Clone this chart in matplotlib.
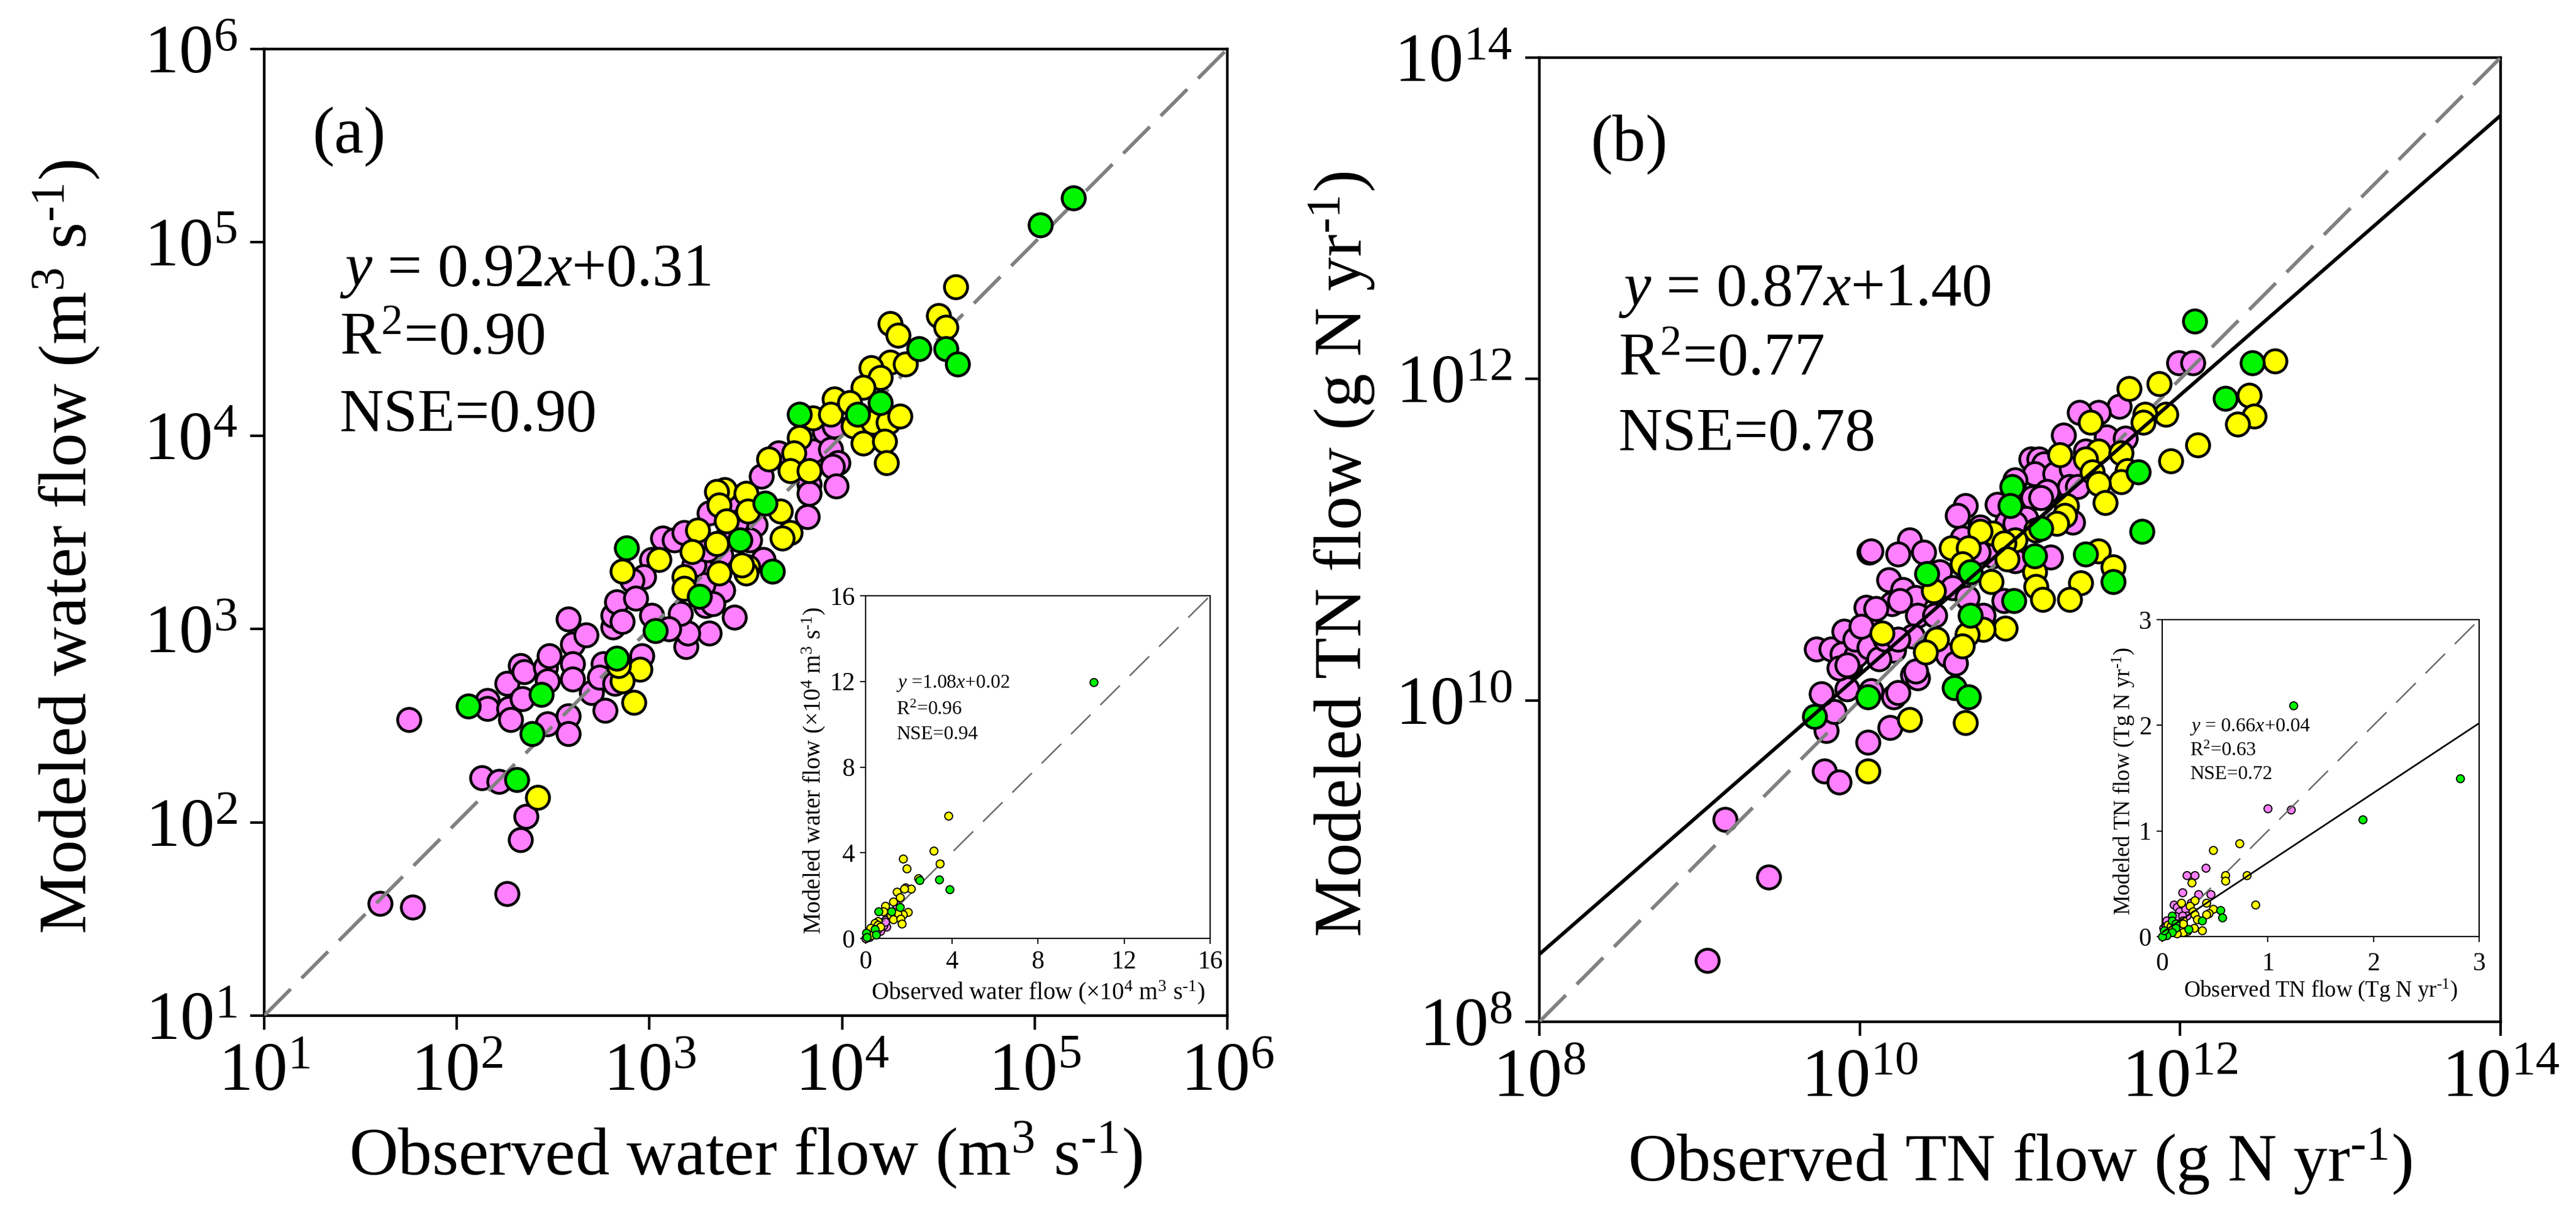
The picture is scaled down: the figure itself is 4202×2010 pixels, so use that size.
import numpy as np
import matplotlib
matplotlib.use('Agg')
import matplotlib.pyplot as plt

plt.rcParams['font.family'] = ['Liberation Serif', 'DejaVu Serif']
plt.rcParams['mathtext.fontset'] = 'custom'
plt.rcParams['mathtext.rm'] = 'Liberation Serif'
plt.rcParams['mathtext.it'] = 'Liberation Serif:italic'
plt.rcParams['mathtext.bf'] = 'Liberation Serif:bold'

PINK = '#FF80FF'
YELLOW = '#FFFF00'
GREEN = '#00F500'
GRAY = '#808080'

# panel a, log10 of m3/s
a_pink_x = [1.75, 1.60, 1.77, 2.26, 2.33, 2.36, 2.13, 2.22, 2.16, 2.16, 2.27, 2.28, 2.26, 2.34, 2.33, 2.35, 2.46, 2.48,
            2.47, 2.60, 2.58, 2.67, 2.60, 2.60, 2.47, 2.58, 2.58, 2.70, 2.77, 2.76, 2.74, 2.82, 2.96, 2.81, 2.81, 3.19,
            3.85, 3.91, 3.96, 3.94, 3.98, 3.95, 3.83, 3.83, 3.97, 3.82, 3.58, 3.67, 3.44, 3.31, 3.20, 3.16, 3.29, 3.38,
            3.59, 3.37, 3.31, 3.55, 3.07, 3.13, 3.18, 3.01, 2.97, 2.91, 2.83, 2.93, 3.01, 3.10, 2.86, 3.43, 3.45, 3.52,
            3.27, 3.28, 3.33, 3.23, 3.40, 3.30]
a_pink_y = [2.53, 1.58, 1.56, 1.63, 1.91, 2.03, 2.23, 2.21, 2.63, 2.59, 2.59, 2.53, 2.72, 2.64, 2.81, 2.78, 2.80, 2.86,
            2.73, 2.92, 3.05, 2.97, 2.82, 2.74, 2.51, 2.55, 2.46, 2.67, 2.58, 2.82, 2.75, 2.72, 2.86, 3.01, 3.07, 2.91,
            3.92, 4.02, 4.05, 3.93, 3.86, 3.84, 3.75, 3.70, 3.74, 3.58, 3.79, 3.91, 3.06, 2.98, 2.98, 3.08, 3.12, 3.20,
            3.36, 3.38, 3.60, 3.54, 3.47, 3.46, 3.50, 3.36, 3.27, 3.25, 3.14, 3.16, 3.07, 3.00, 3.04, 3.67, 3.55, 3.46,
            3.31, 3.23, 3.13, 3.33, 3.47, 3.41]
a_yellow_x = [2.42, 2.95, 2.86, 2.84, 2.92, 4.59, 4.50, 4.54, 4.25, 4.29, 4.25, 4.33, 4.15, 4.20, 4.11, 3.96, 3.85, 3.94,
              4.04, 4.06, 4.16, 4.24, 4.30, 4.11, 4.22, 4.23, 3.78, 3.75, 3.62, 3.73, 3.83, 3.39, 3.35, 3.50, 3.36, 3.51,
              3.68, 3.40, 3.73, 3.69, 3.25, 3.35, 3.22, 3.05, 2.86, 3.18, 3.36, 3.51, 3.50, 3.48, 3.18]
a_yellow_y = [2.13, 2.79, 2.73, 2.81, 2.62, 4.77, 4.62, 4.56, 4.58, 4.52, 4.38, 4.37, 4.35, 4.30, 4.25, 4.19, 4.09, 4.11,
              4.17, 4.05, 4.07, 4.07, 4.10, 3.96, 3.97, 3.86, 3.99, 3.91, 3.88, 3.82, 3.82, 3.72, 3.71, 3.70, 3.64, 3.61,
              3.61, 3.56, 3.50, 3.47, 3.51, 3.44, 3.40, 3.36, 3.30, 3.27, 3.29, 3.32, 3.29, 3.33, 3.21]
a_green_x = [2.06, 2.44, 2.39, 2.31, 2.83, 5.20, 5.03, 4.40, 4.54, 4.60, 4.20, 4.08, 3.78, 3.60, 3.47, 3.64, 3.26, 2.88, 3.03]
a_green_y = [2.60, 2.66, 2.46, 2.22, 2.85, 5.23, 5.09, 4.45, 4.45, 4.37, 4.17, 4.11, 4.11, 3.65, 3.46, 3.30, 3.17, 3.42, 2.99]

# panel b, log10 of g N/yr
b_pink_x = [9.05, 9.43, 9.16, 9.78, 9.87, 10.05, 10.19, 9.79, 9.84, 9.76, 9.92, 10.07, 10.21, 10.24, 10.33, 10.36, 9.73,
            9.82, 9.90, 9.89, 9.87, 9.94, 9.98, 9.97, 10.04, 10.06, 10.06, 10.04, 10.01, 9.92,
            11.99, 12.08, 11.62, 11.49, 11.37, 11.27, 11.54, 11.66, 11.41, 11.07, 11.12, 11.15, 11.09, 11.22, 11.32,
            10.97, 11.17, 11.31, 11.36, 11.08, 11.13, 10.86, 10.66, 10.61, 11.33, 10.92, 11.04, 10.97, 10.75, 10.31,
            10.24, 10.40, 10.07, 11.19, 10.18, 10.50, 10.27, 10.35, 10.20, 10.25, 10.10, 10.58, 10.67, 10.90, 10.77,
            10.36, 10.47, 10.33, 10.21, 10.12, 10.55, 10.60, 10.35, 10.83, 10.97, 10.64, 10.16, 10.24, 10.74]
b_pink_y = [8.38, 8.90, 9.26, 9.56, 9.49, 9.74, 9.83, 9.81, 9.93, 10.04, 10.07, 10.06, 10.02, 10.05, 10.16, 10.14, 10.32,
            10.32, 10.43, 10.29, 10.20, 10.22, 10.28, 10.38, 10.47, 10.33, 10.92, 10.58, 10.46, 10.22,
            12.10, 12.10, 11.83, 11.79, 11.79, 11.65, 11.64, 11.63, 11.55, 11.50, 11.50, 11.47, 11.41, 11.41, 11.44,
            11.37, 11.30, 11.33, 11.33, 11.26, 11.26, 11.22, 11.21, 11.15, 11.11, 11.11, 11.13, 11.10, 11.08, 11.00,
            10.91, 10.92, 10.93, 10.89, 10.75, 10.80, 10.69, 10.64, 10.60, 10.62, 10.57, 10.70, 10.64, 10.62, 10.53,
            10.53, 10.53, 10.40, 10.31, 10.26, 10.28, 10.23, 10.18, 10.90, 10.87, 11.01, 10.38, 10.38, 10.92]
b_yellow_x = [10.05, 10.31, 10.66, 12.59, 12.43, 12.46, 12.36, 12.11, 11.94, 11.68, 11.87, 11.91, 11.78, 11.77, 11.44,
              11.25, 11.49, 11.63, 11.41, 11.45, 11.67, 11.63, 11.49, 11.53, 11.29, 11.28, 11.23, 11.10, 10.83, 10.75,
              10.57, 10.68, 10.97, 10.90, 10.92, 10.64, 10.82, 10.46, 11.49, 11.58, 11.09, 11.10, 11.14, 11.38, 11.31,
              10.91, 10.77, 10.67, 10.64, 10.48, 10.41, 10.14]
b_yellow_y = [9.56, 9.88, 9.86, 12.11, 11.90, 11.77, 11.72, 11.59, 11.49, 11.94, 11.97, 11.78, 11.78, 11.73, 11.73,
              11.53, 11.55, 11.54, 11.50, 11.42, 11.43, 11.36, 11.35, 11.23, 11.21, 11.15, 11.10, 11.06, 11.04, 11.05,
              10.95, 10.95, 11.00, 10.98, 10.88, 10.85, 10.74, 10.68, 10.93, 10.83, 10.80, 10.71, 10.63, 10.73, 10.63,
              10.45, 10.44, 10.41, 10.34, 10.38, 10.30, 10.42]
b_green_x = [10.05, 9.72, 10.59, 10.68, 12.09, 12.45, 12.28, 11.74, 11.76, 11.41, 11.58, 11.09, 11.13, 10.95, 10.94,
             10.69, 10.42, 10.96, 10.69]
b_green_y = [10.02, 9.90, 10.08, 10.02, 12.36, 12.10, 11.88, 11.42, 11.05, 10.91, 10.74, 10.90, 11.07, 11.33, 11.21,
             10.80, 10.79, 10.62, 10.53]

# inset a, 10^4 m3/s
ia_pink_x = [1.85, 0.90, 0.97, 0.68, 1.41, 0.83, 0.32, 0.00, 0.10, 0.90, 0.54, 0.17]
ia_pink_y = [2.37, 0.85, 0.53, 0.35, 1.58, 0.59, 0.20, 0.00, 0.13, 0.78, 0.39, 0.07]
ia_yellow_x = [3.85, 3.16, 3.45, 1.75, 1.92, 2.46, 2.11, 1.79, 1.44, 1.60, 1.29, 0.92, 1.96, 1.75, 1.48, 1.16, 1.29,
               1.63, 1.69, 0.83, 0.58, 0.42, 0.57, 0.22, 0.39, 0.68, 0.25]
ia_yellow_y = [5.72, 4.10, 3.48, 3.71, 3.25, 2.80, 2.33, 2.33, 2.17, 1.93, 1.73, 1.51, 1.24, 1.12, 1.18, 1.08, 0.88,
               0.92, 0.70, 1.25, 0.79, 0.72, 0.63, 0.50, 0.26, 0.53, 0.13]
ia_green_x = [10.6, 3.42, 3.91, 2.50, 0.61, 1.19, 1.60, 0.42, 0.03, 0.07, 0.47]
ia_green_y = [11.97, 2.76, 2.30, 2.72, 1.25, 1.25, 1.45, 0.43, 0.26, 0.07, 0.16]

# inset b, Tg N/yr
ib_pink_x = [1.00, 1.22, 0.41, 0.31, 0.23, 0.19, 0.34, 0.46, 0.27, 0.11, 0.14, 0.16, 0.22, 0.13, 0.23, 0.19, 0.04, 0.01, 0.20]
ib_pink_y = [1.21, 1.20, 0.65, 0.58, 0.58, 0.42, 0.40, 0.40, 0.32, 0.30, 0.28, 0.24, 0.26, 0.19, 0.20, 0.20, 0.15, 0.08, 0.12]
ib_yellow_x = [0.73, 0.48, 0.60, 0.60, 0.80, 0.28, 0.88, 0.18, 0.42, 0.31, 0.26, 0.29, 0.31, 0.48, 0.44, 0.42, 0.33,
               0.20, 0.20, 0.30, 0.38, 0.24, 0.20, 0.14, 0.05, 0.08]
ib_yellow_y = [0.88, 0.82, 0.58, 0.53, 0.58, 0.51, 0.30, 0.32, 0.32, 0.34, 0.29, 0.24, 0.21, 0.26, 0.22, 0.21, 0.16,
               0.15, 0.12, 0.08, 0.06, 0.05, 0.04, 0.03, 0.11, 0.10]
ib_green_x = [1.24, 1.90, 2.82, 0.55, 0.57, 0.38, 0.25, 0.09, 0.09, 0.13, 0.13, 0.09, 0.04, 0.00, 0.02]
ib_green_y = [2.19, 1.11, 1.50, 0.25, 0.18, 0.15, 0.07, 0.20, 0.15, 0.12, 0.08, 0.04, 0.01, 0.00, 0.06]

W, H = 4202, 2010
fig = plt.figure(figsize=(W / 300, H / 300), dpi=300)


def box(left, right, top, bottom):
    return [left / W, (H - bottom) / H, (right - left) / W, (bottom - top) / H]


def dots(ax, x, y, color, size, lw, z):
    ax.scatter(x, y, s=size, c=color, edgecolors='black', linewidths=lw, zorder=z, clip_on=False)


def main_panel(rect, lo, hi, ticks, px, py, yx, yy, gx, gy, xlabel, ylabel):
    ax = fig.add_axes(rect)
    ax.set_xscale('log')
    ax.set_yscale('log')
    dots(ax, 10.0 ** np.array(px), 10.0 ** np.array(py), PINK, 82, 1.1, 2)
    ax.plot([10.0 ** lo, 10.0 ** hi], [10.0 ** lo, 10.0 ** hi], color=GRAY, lw=1.4, dashes=(10.5, 4.3), zorder=3)
    dots(ax, 10.0 ** np.array(yx), 10.0 ** np.array(yy), YELLOW, 82, 1.1, 4)
    dots(ax, 10.0 ** np.array(gx), 10.0 ** np.array(gy), GREEN, 82, 1.1, 5)
    ax.set_xlim(10.0 ** lo, 10.0 ** hi)
    ax.set_ylim(10.0 ** lo, 10.0 ** hi)
    labels = [r'$\mathregular{10^{%d}}$' % t for t in ticks]
    ax.set_xticks([10.0 ** t for t in ticks], labels)
    ax.set_yticks([10.0 ** t for t in ticks], labels)
    ax.minorticks_off()
    ax.tick_params(length=5.5, width=1.0, labelsize=27, pad=5)
    ax.set_xlabel(xlabel, fontsize=26.6, labelpad=6)
    ax.set_ylabel(ylabel, fontsize=26.6)
    ax.yaxis.set_label_coords(-0.169, 0.485)
    for s in ax.spines.values():
        s.set_linewidth(1.05)
    return ax


def stats(ax, x, ys, lines, size):
    for y, t in zip(ys, lines):
        ax.text(x, y, t, transform=ax.transAxes, fontsize=size, va='baseline', zorder=8)


def inset(rect, top, ticks, px, py, yx, yy, gx, gy, xlabel, ylabel, lab_size, xpad, tick_pad):
    ax = fig.add_axes(rect)
    dots(ax, px, py, PINK, 9.5, 0.45, 2)
    ax.plot([0, top], [0, top], color='#6a6a6a', lw=0.6, dashes=(18, 9), zorder=3)
    dots(ax, yx, yy, YELLOW, 9.5, 0.45, 4)
    dots(ax, gx, gy, GREEN, 9.5, 0.45, 5)
    ax.set_xlim(0, top)
    ax.set_ylim(0, top)
    ax.set_xticks(ticks)
    ax.set_yticks(ticks)
    ax.tick_params(length=2.2, width=0.45, labelsize=10)
    ax.tick_params(axis='x', pad=tick_pad)
    ax.tick_params(axis='y', pad=2)
    ax.set_xlabel(xlabel, fontsize=lab_size, labelpad=xpad)
    ax.set_ylabel(ylabel, fontsize=lab_size, labelpad=1)
    ax.yaxis.label.set_y(0.49)
    for s in ax.spines.values():
        s.set_linewidth(0.5)
    return ax


minus = r'\text{-}'

ax_a = main_panel(box(431, 2002, 80, 1657), 1, 6, [1, 2, 3, 4, 5, 6], a_pink_x, a_pink_y, a_yellow_x, a_yellow_y,
                  a_green_x, a_green_y,
                  r'Observed water flow (m$^{3}$ s$^{%s1}$)' % minus,
                  r'Modeled water flow (m$^{3}$ s$^{%s1}$)' % minus)
ax_a.text(0.05, 0.893, '(a)', transform=ax_a.transAxes, fontsize=26)
stats(ax_a, 0.078, [0.755, 0.684, 0.605],
      [r'$y$ = 0.92$x$+0.31', r'R$^{2}$=0.90', 'NSE=0.90'], 24)

ax_b = main_panel(box(2511, 4079, 94, 1667), 8, 14, [8, 10, 12, 14], b_pink_x, b_pink_y, b_yellow_x, b_yellow_y,
                  b_green_x, b_green_y,
                  r'Observed TN flow (g N yr$^{%s1}$)' % minus,
                  r'Modeled TN flow (g N yr$^{%s1}$)' % minus)
fit_x = np.array([8.0, 14.0])
ax_b.plot(10.0 ** fit_x, 10.0 ** (0.87 * fit_x + 1.46), color='black', lw=1.4, zorder=6)
ax_b.text(0.053, 0.893, '(b)', transform=ax_b.transAxes, fontsize=26)
stats(ax_b, 0.082, [0.743, 0.671, 0.593],
      [r'$y$ = 0.87$x$+1.40', r'R$^{2}$=0.77', 'NSE=0.78'], 24)

in_a = inset(box(1412, 1974, 972, 1531), 16, [0, 4, 8, 12, 16], ia_pink_x, ia_pink_y, ia_yellow_x, ia_yellow_y,
             ia_green_x, ia_green_y,
             r'Observed water flow ($\times$10$^{4}$ m$^{3}$ s$^{%s1}$)' % minus,
             r'Modeled water flow ($\times$10$^{4}$ m$^{3}$ s$^{%s1}$)' % minus, 9.4, 2, 2.5)
stats(in_a, 0.089, [0.732, 0.653, 0.582],
      [r'$y$ =1.08$x$+0.02', r'R$^{2}$=0.96', 'NSE=0.94'], 7.6)

in_b = inset(box(3527, 4044, 1011, 1528), 3, [0, 1, 2, 3], ib_pink_x, ib_pink_y, ib_yellow_x, ib_yellow_y,
             ib_green_x, ib_green_y,
             r'Observed TN flow (Tg N yr$^{%s1}$)' % minus,
             r'Modeled TN flow (Tg N yr$^{%s1}$)' % minus, 8.8, 0.5, 4)
in_b.plot([0, 3], [0.04, 0.66 * 3 + 0.04], color='black', lw=0.65, zorder=6)
stats(in_b, 0.087, [0.648, 0.571, 0.497],
      [r'$y$ = 0.66$x$+0.04', r'R$^{2}$=0.63', 'NSE=0.72'], 7.7)

fig.savefig('out.png', dpi=300, facecolor='white')
